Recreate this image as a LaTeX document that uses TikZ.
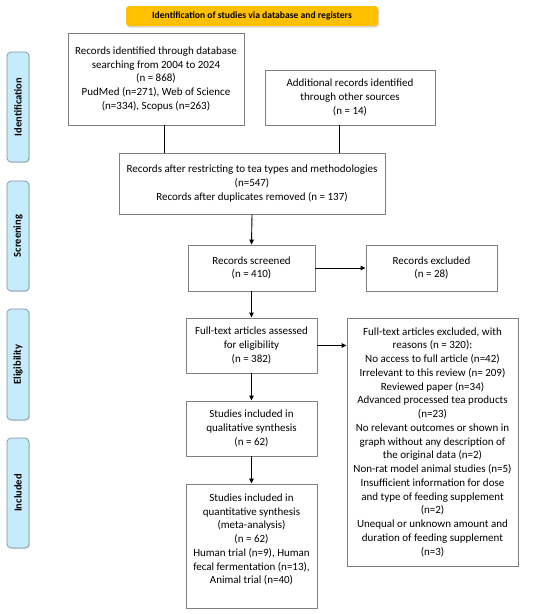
\documentclass[tikz,border=0pt]{standalone}
\usepackage{fontspec}
\setmainfont{Carlito}
\usetikzlibrary{arrows.meta,shadows}
\definecolor{titleorange}{HTML}{FFC000}
\definecolor{sideblue}{HTML}{C6ECFB}
\definecolor{sideedge}{HTML}{7A94A3}
\definecolor{boxedge}{HTML}{7F7F7F}
\begin{document}
\begin{tikzpicture}[x=1pt,y=-1pt,
  flowbox/.style={draw=boxedge,line width=0.9pt,fill=white,align=center,inner sep=2pt,font=\fontsize{11}{13.75}\selectfont},
  txt/.style={align=center,inner sep=0pt,font=\fontsize{11}{13.75}\selectfont},
  sidebox/.style={draw=sideedge,line width=0.7pt,fill=sideblue,rounded corners=4pt,minimum width=22pt,minimum height=110pt,
    drop shadow={opacity=0.25,shadow xshift=1pt,shadow yshift=-1pt}},
  sidetxt/.style={rotate=90,font=\bfseries\fontsize{10.5}{12}\selectfont,inner sep=0pt},
  conn/.style={line width=0.9pt,black},
  arr/.style={conn,-{Triangle[length=5pt,width=4.5pt]}}
]
\useasboundingbox (0,0) rectangle (550,614);
\fill[white] (0,0) rectangle (550,614);

% title
\node[fill=titleorange,rounded corners=3pt,minimum width=252pt,minimum height=20pt,inner sep=0pt,
  drop shadow={opacity=0.3,shadow xshift=1pt,shadow yshift=-1.5pt},
  font=\bfseries\fontsize{9.6}{11}\selectfont] (title) at (252,16) {Identification of studies via database and registers};

% side labels
\node[sidebox] (sid) at (18,107) {};
\node[sidetxt] (sidt) at (sid.center) {Identification};
\node[sidebox] (ssc) at (18,236) {};
\node[sidetxt] (ssct) at (ssc.center) {Screening};
\node[sidebox,minimum height=111pt] (sel) at (18,364.5) {};
\node[sidetxt] (selt) at (sel.center) {Eligibility};
\node[sidebox] (sin) at (18,493) {};
\node[sidetxt] (sint) at (sin.center) {Included};

% boxes
\node[flowbox,minimum width=176pt,minimum height=92pt] (b1) at (156,79)
  {Records identified through database\\searching from 2004 to 2024\\(n = 868)\\PudMed (n=271), Web of Science\\(n=334), Scopus (n=263)};
\node[flowbox,minimum width=170pt,minimum height=55pt] (b2) at (350,97.5)
  {Additional records identified\\through other sources\\(n = 14)};
\node[flowbox,minimum width=266pt,minimum height=61pt] (b3) at (252,183.5)
  {Records after restricting to tea types and methodologies\\(n=547)\\Records after duplicates removed (n = 137)};
\node[flowbox,minimum width=127pt,minimum height=46pt] (b4) at (251.5,268)
  {Records screened\\(n = 410)};
\node[flowbox,minimum width=131pt,minimum height=46pt] (b5) at (431.5,268)
  {Records excluded\\(n = 28)};
\node[flowbox,minimum width=131pt,minimum height=55pt] (b6) at (251.5,345.5)
  {Full-text articles assessed\\for eligibility\\(n = 382)};
\node[flowbox,minimum width=171pt,minimum height=248pt] (b7) at (432.5,442)
  {Full-text articles excluded, with\\reasons (n = 320):\\No access to full article (n=42)\\Irrelevant to this review (n= 209)\\Reviewed paper (n=34)\\Advanced processed tea products\\(n=23)\\No relevant outcomes or shown in\\graph without any description of\\the original data (n=2)\\Non-rat model animal studies (n=5)\\Insufficient information for dose\\and type of feeding supplement\\(n=2)\\Unequal or unknown amount and\\duration of feeding supplement\\(n=3)};
\node[flowbox,minimum width=131pt,minimum height=55pt] (b8) at (251.5,428.5)
  {Studies included in\\qualitative synthesis\\(n = 62)};
\node[flowbox,minimum width=131pt,minimum height=124pt] (b9) at (251.5,546) {};
\node[txt] (b9t) at (251.5,539.5)
  {Studies included in\\quantitative synthesis\\(meta-analysis)\\(n = 62)\\Human trial (n=9), Human\\fecal fermentation (n=13),\\Animal trial (n=40)};

% connectors
\draw[conn] ([xshift=8pt]b1.south) -- ([xshift=8pt]b1.south |- b3.north);
\draw[conn] ([xshift=-11pt]b2.south) -- ([xshift=-11pt]b2.south |- b3.north);
\draw[arr] (b3.south) -- (b4.north);
\draw[arr] (b4.east) -- (b5.west);
\draw[arr] (b4.south) -- (b6.north);
\draw[arr] (b6.east) -- (b6.east -| b7.west);
\draw[arr] (b6.south) -- (b8.north);
\draw[arr] (b8.south) -- (b9.north);
\end{tikzpicture}
\end{document}
